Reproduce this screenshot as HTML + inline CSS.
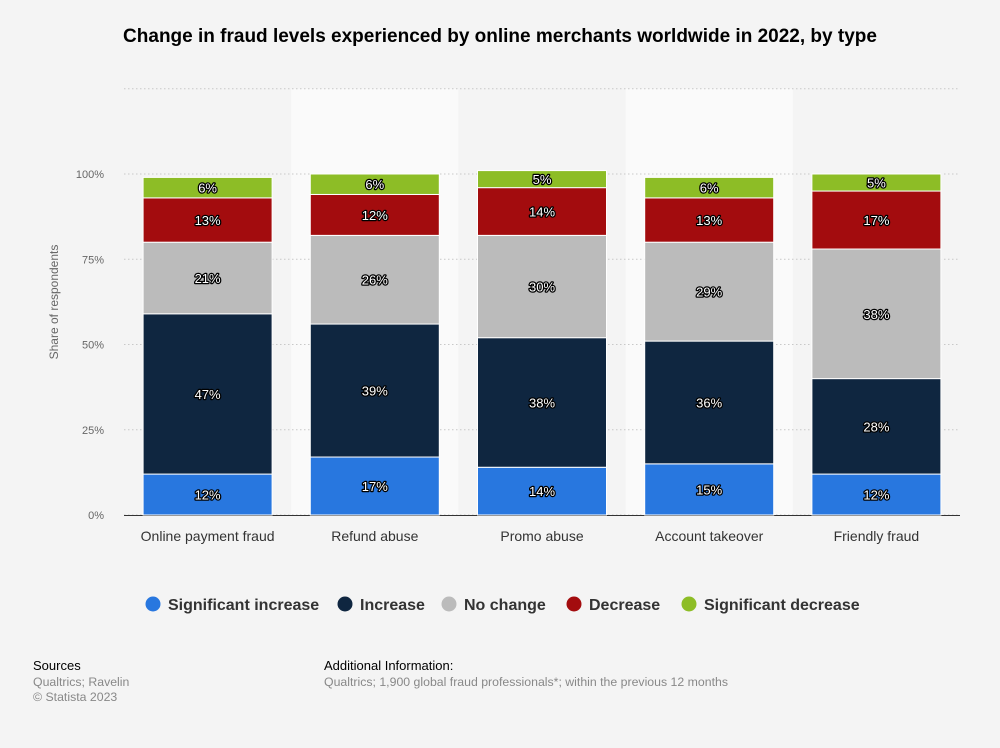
<!DOCTYPE html>
<html><head><meta charset="utf-8"><style>
body{margin:0;width:1000px;height:743px;background:#f4f4f4;font-family:"Liberation Sans",sans-serif;overflow:hidden}
svg text{font-family:"Liberation Sans",sans-serif}
</style></head><body>
<svg id="chart" width="1000" height="743" xmlns="http://www.w3.org/2000/svg">
<text x="500" y="42" text-anchor="middle" font-size="19" font-weight="bold" fill="#000">Change in fraud levels experienced by online merchants worldwide in 2022, by type</text>
<g id="bands"></g><g id="grid"></g><g id="bars"></g><g id="labels"></g>
<text transform="translate(58,302) rotate(-90)" text-anchor="middle" font-size="12" fill="#666">Share of respondents</text>
<g id="legend"></g>
<text x="33" y="670" font-size="13" fill="#000">Sources</text>
<text x="33" y="686" font-size="12.3" fill="#888">Qualtrics; Ravelin</text>
<text x="33" y="701" font-size="12.3" fill="#888">© Statista 2023</text>
<text x="324" y="670" font-size="13" fill="#000">Additional Information:</text>
<text x="324" y="686" font-size="12.3" fill="#888">Qualtrics; 1,900 global fraud professionals*; within the previous 12 months</text>
</svg>
<script>
const categories=["Online payment fraud","Refund abuse","Promo abuse","Account takeover","Friendly fraud"];
const seriesNames=["Significant increase","Increase","No change","Decrease","Significant decrease"];
const sigIncrease=[12,17,14,15,12];
const increase=[47,39,38,36,28];
const noChange=[21,26,30,29,38];
const decrease=[13,12,14,13,17];
const sigDecrease=[6,6,5,6,5];
const yTicks=[0,25,50,75,100];
const colors=["#2877df","#0f2640","#bbbbbb","#a30c0e","#8dbd26"];
const series=[sigIncrease,increase,noChange,decrease,sigDecrease];
const NS="http://www.w3.org/2000/svg";
const L=124,R=960,Y0=515,PX=(Y0-174)/100;
const y=v=>Y0-v*PX;
const bw=(R-L)/categories.length;
const xc=i=>L+bw*(i+0.5);
function mk(t,a,p){const e=document.createElementNS(NS,t);for(const k in a)e.setAttribute(k,a[k]);p.appendChild(e);return e;}
const bands=document.getElementById('bands'),grid=document.getElementById('grid'),bars=document.getElementById('bars'),labels=document.getElementById('labels'),legend=document.getElementById('legend');
categories.forEach((c,i)=>{if(i%2==1){const b=mk('rect',{x:L+bw*i,y:y(125),width:bw,height:y(0)-y(125),fill:'#fafafa'},bands);

}});
[...yTicks,125].forEach(t=>{const l=mk('line',{x1:L,x2:R,y1:y(t),y2:y(t),stroke:'#c8c8c8','stroke-dasharray':'1.5,2.5'},grid);


if(t<=100){const tx=mk('text',{x:104,y:y(t)+4,'text-anchor':'end','font-size':11,fill:'#666'},grid);tx.textContent=t+'%';

}});
const ax=mk('line',{x1:L,x2:R,y1:Y0+0.5,y2:Y0+0.5,stroke:'#333','stroke-width':1},grid);


categories.forEach((c,i)=>{let cum=0;const w=129;
series.forEach((s,k)=>{const v=s[i];const r=mk('rect',{x:xc(i)-w/2,y:y(cum+v),width:w,height:v*PX,fill:colors[k],stroke:'#fff','stroke-width':1},bars);


const t=mk('text',{x:xc(i),y:y(cum+v/2)+5,'text-anchor':'middle','font-size':13,fill:'#fff',stroke:'#000','stroke-width':2.5,'paint-order':'stroke','stroke-linejoin':'round'},labels);t.textContent=v+'%';


cum+=v;});
const ct=mk('text',{x:xc(i),y:541,'text-anchor':'middle','font-size':14,fill:'#333'},labels);ct.textContent=c;

});
const lx=[153,345,449,574,689];
seriesNames.forEach((n,k)=>{const g=mk('g',{},legend);


mk('circle',{cx:lx[k],cy:604,r:7.5,fill:colors[k]},g);
const t=mk('text',{x:lx[k]+15,y:610,'font-size':16,'font-weight':'bold',fill:'#333'},g);t.textContent=n;});
</script>
</body></html>
